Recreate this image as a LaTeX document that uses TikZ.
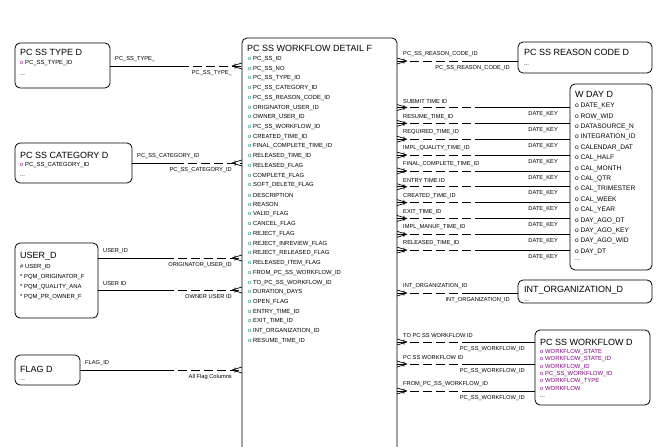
\documentclass[tikz,border=0pt]{standalone}
\usepackage{fontspec}
\setmainfont{Liberation Sans}
\definecolor{teal2}{RGB}{0,128,128}
\definecolor{purp}{RGB}{128,0,128}
\begin{document}
\begin{tikzpicture}[x=1pt,y=-1pt,
  ent/.style={draw,line width=0.8pt,rounded corners=5pt},
  ttl/.style={anchor=west,font=\fontsize{9}{10}\selectfont,inner sep=0pt},
  att/.style={anchor=west,font=\fontsize{5.9}{6}\selectfont,inner sep=0pt},
  lab/.style={font=\fontsize{5.7}{6}\selectfont,inner sep=0pt},
  rel/.style={line width=0.7pt},
  dsh/.style={line width=0.7pt,dash pattern=on 9pt off 4pt}]
\useasboundingbox (0,0) rectangle (667,447);
\clip (0,0) rectangle (667,447);
% entities
\draw[ent] (15,43) rectangle (110,88);
\node[ttl] at (20,52) {PC SS TYPE D};
\node[att] at (20,63) {\textcolor{purp}{o} PC\_SS\_TYPE\_ID};
\node[att] at (20,75) {...};
\draw[ent] (15,143) rectangle (132,183);
\node[ttl] at (20,155) {PC SS CATEGORY D};
\node[att] at (20,165) {\textcolor{purp}{o} PC\_SS\_CATEGORY\_ID};
\node[att] at (20,176) {...};
\draw[ent] (15,243) rectangle (98,318);
\node[ttl] at (20,256) {USER\_D};
\node[att] at (20,267) {\# USER\_ID};
\node[att] at (20,277) {* PQM\_ORIGINATOR\_F};
\node[att] at (20,287) {* PQM\_QUALITY\_ANA};
\node[att] at (20,297) {* PQM\_PR\_OWNER\_F};
\draw[ent] (15,355) rectangle (80,385);
\node[ttl] at (20,369) {FLAG D};
\node[att] at (20,380) {...};
\draw[ent] (242,38) rectangle (397,470);
\node[ttl] at (247,48) {PC SS WORKFLOW DETAIL F};
\foreach \a [count=\i from 0] in {PC\_SS\_ID,PC\_SS\_NO,PC\_SS\_TYPE\_ID,PC\_SS\_CATEGORY\_ID,PC\_SS\_REASON\_CODE\_ID,ORIGINATOR\_USER\_ID,OWNER\_USER\_ID,PC\_SS\_WORKFLOW\_ID,CREATED\_TIME\_ID,FINAL\_COMPLETE\_TIME\_ID,RELEASED\_TIME\_ID,RELEASED\_FLAG,COMPLETE\_FLAG,SOFT\_DELETE\_FLAG,DESCRIPTION,REASON,VALID\_FLAG,CANCEL\_FLAG,REJECT\_FLAG,REJECT\_INREVIEW\_FLAG,REJECT\_RELEASED\_FLAG,RELEASED\_ITEM\_FLAG,FROM\_PC\_SS\_WORKFLOW\_ID,TO\_PC\_SS\_WORKFLOW\_ID,DURATION\_DAYS,OPEN\_FLAG,ENTRY\_TIME\_ID,EXIT\_TIME\_ID,INT\_ORGANIZATION\_ID,RESUME\_TIME\_ID}
  \node[att] at (248,{59+\i*9.72}) {\textcolor{teal2}{o} \a};
\draw[ent] (518,42) rectangle (652,73);
\node[ttl] at (524,52) {PC SS REASON CODE D};
\node[att] at (524,65) {...};
\draw[ent] (570,84) rectangle (652,270);
\node[ttl] at (575,94) {W DAY D};
\foreach \a [count=\i from 0] in {DATE\_KEY,ROW\_WID,DATASOURCE\_N,INTEGRATION\_ID,CALENDAR\_DAT,CAL\_HALF,CAL\_MONTH,CAL\_QTR,CAL\_TRIMESTER,CAL\_WEEK,CAL\_YEAR,DAY\_AGO\_DT,DAY\_AGO\_KEY,DAY\_AGO\_WID,DAY\_DT}
  \node[att,font=\fontsize{6.6}{7}\selectfont] at (575,{106+\i*10.4}) {o \a};
\node[att] at (575,260) {...};
\draw[ent] (518,280) rectangle (652,303);
\node[ttl] at (524,290) {INT\_ORGANIZATION\_D};
\node[att] at (524,301) {...};
\draw[ent] (535,330) rectangle (650,405);
\node[ttl] at (540,342) {PC SS WORKFLOW D};
\foreach \a [count=\i from 0] in {WORKFLOW\_STATE,WORKFLOW\_STATE\_ID,WORKFLOW\_ID,PC\_SS\_WORKFLOW\_ID,WORKFLOW\_TYPE,WORKFLOW}
  \node[att,text=purp] at (540,{352+\i*7.3}) {o \a};
\node[att] at (540,397) {...};
% left connectors
\foreach \y/\s/\m/\la/\lb in {66/110/180/PC\_SS\_TYPE\_/PC\_SS\_TYPE\_,
  163/132/175/PC\_SS\_CATEGORY\_ID/PC\_SS\_CATEGORY\_ID,
  258/98/165/USER\_ID/ORIGINATOR\_USER\_ID,
  290/98/165/USER ID/OWNER USER ID,
  370/80/165/FLAG\_ID/All Flag Columns}{
  \draw[rel] (\s,\y) -- (\m,\y);
  \draw[dsh] (\m,\y) -- (242,\y);
  \draw[rel] (232,\y) -- (242,\y-3) (232,\y) -- (242,\y+3) (235,\y-2.5) -- (235,\y+2.5);
  \node[lab,anchor=south west] at (\s+5,\y-4) {\la};
  \node[lab,anchor=north east] at (232,\y+4) {\lb};
}
% right connectors: reason, int org
\foreach \y/\t/\la/\lb in {61/518/PC\_SS\_REASON\_CODE\_ID/PC\_SS\_REASON\_CODE\_ID,
  293/518/INT\_ORGANIZATION\_ID/INT\_ORGANIZATION\_ID}{
  \draw[dsh] (397,\y) -- (470,\y);
  \draw[rel] (470,\y) -- (\t,\y);
  \draw[rel] (407,\y) -- (397,\y-3) (407,\y) -- (397,\y+3) (404,\y-2.5) -- (404,\y+2.5);
  \node[lab,anchor=south west] at (403,\y-4) {\la};
  \node[lab,anchor=north east] at (510,\y+4) {\lb};
}
% W DAY connectors
\foreach \la [count=\i from 0] in {SUBMIT TIME ID,RESUME\_TIME\_ID,REQUIRED\_TIME\_ID,IMPL\_QUALITY\_TIME\_ID,FINAL\_COMPLETE\_TIME\_ID,ENTRY TIME ID,CREATED\_TIME\_ID,EXIT\_TIME\_ID,IMPL\_MANUF\_TIME\_ID,RELEASED\_TIME\_ID}{
  \pgfmathsetmacro\y{107.5+\i*15.85}
  \draw[dsh] (397,\y) -- (478,\y);
  \draw[rel] (478,\y) -- (570,\y);
  \draw[rel] (407,\y) -- (397,\y-3) (407,\y) -- (397,\y+3) (404,\y-2.5) -- (404,\y+2.5);
  \node[lab,anchor=south west] at (403,\y-4) {\la};
  \node[lab,anchor=north east] at (558,\y+4) {DATE\_KEY};
}
% workflow D connectors
\foreach \y/\la in {342/TO PC SS WORKFLOW ID,364/PC SS WORKFLOW ID,391/FROM\_PC\_SS\_WORKFLOW\_ID}{
  \draw[dsh] (397,\y) -- (470,\y);
  \draw[rel] (470,\y) -- (535,\y);
  \draw[rel] (407,\y) -- (397,\y-3) (407,\y) -- (397,\y+3) (404,\y-2.5) -- (404,\y+2.5);
  \node[lab,anchor=south west] at (403,\y-4) {\la};
  \node[lab,anchor=north east] at (525,\y+4) {PC\_SS\_WORKFLOW\_ID};
}
\end{tikzpicture}
\end{document}
